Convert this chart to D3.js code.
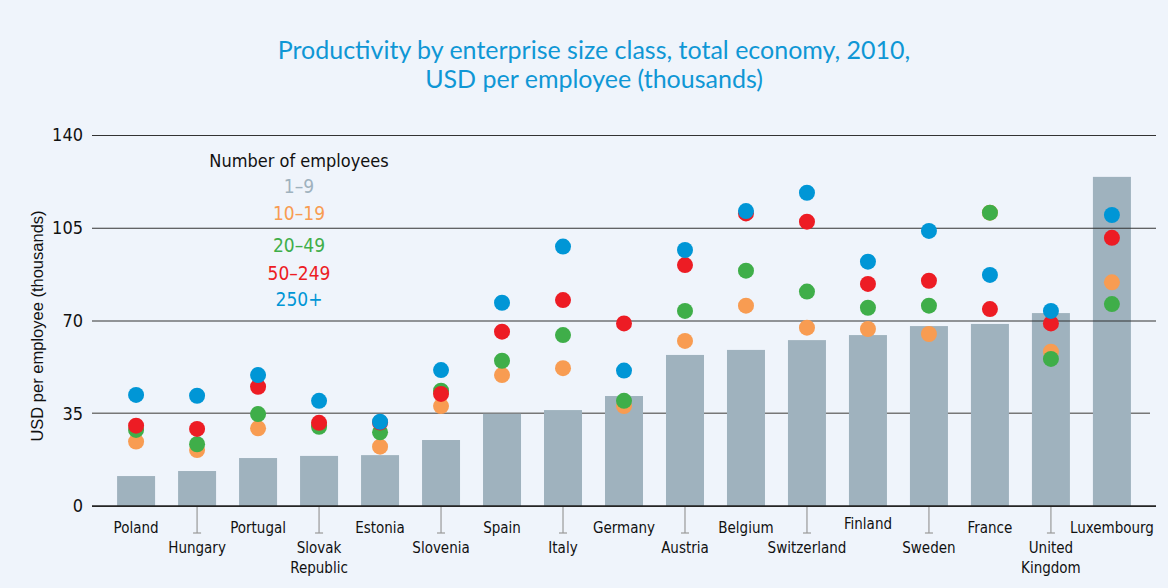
<!DOCTYPE html>
<html>
<head>
<meta charset="utf-8">
<script src="https://cdn.jsdelivr.net/npm/d3@7"></script>
<style>
  body { margin: 0; background: #eff4fb; }
  svg { display: block; }
  .cond { font-family: "DejaVu Sans Condensed", "Liberation Sans Narrow", sans-serif; font-stretch: condensed; }
</style>
</head>
<body>
<svg id="chart" width="1168" height="588"></svg>
<script>
// data
var countries = ["Poland", "Hungary", "Portugal", "Slovak Republic", "Estonia", "Slovenia", "Spain", "Italy",
  "Germany", "Austria", "Belgium", "Switzerland", "Finland", "Sweden", "France", "United Kingdom", "Luxembourg"];
var size1to9 = [11.3, 13.2, 18.1, 18.9, 19.2, 24.9, 34.8, 36.2, 41.5, 57.0, 58.9, 62.6, 64.5, 67.9, 68.7, 72.8, 124.2];
var size10to19 = [24.3, 21.1, 29.3, 30.5, 22.4, 37.7, 49.4, 52.0, 37.7, 62.3, 75.6, 67.3, 66.8, 64.9, 110.7, 58.2, 84.4];
var size20to49 = [28.7, 23.3, 34.7, 29.9, 27.8, 43.5, 54.8, 64.5, 39.7, 73.6, 88.8, 80.9, 74.8, 75.6, 110.7, 55.5, 76.2];
var size50to249 = [30.3, 29.1, 45.0, 31.4, 31.5, 42.3, 65.8, 77.7, 68.9, 90.9, 110.4, 107.3, 83.8, 85.0, 74.3, 68.9, 101.2];
var size250plus = [41.9, 41.6, 49.4, 39.7, 31.8, 51.3, 76.7, 97.9, 51.1, 96.6, 111.3, 118.2, 92.2, 103.8, 87.2, 73.6, 109.8];
var yTicks = [0, 35, 70, 105, 140];

var legendLabels = ["1\u20139", "10\u201319", "20\u201349", "50\u2013249", "250+"];
var colors = ["#9fb2be", "#f89c52", "#3fae49", "#ed1c24", "#0096d6"];

var svg = d3.select("#chart");
svg.append("rect").attr("width", 1168).attr("height", 588).attr("fill", "#eff4fb");

var x = d3.scaleBand().domain(countries).range([105.5, 1142.5]).paddingInner(0.377).paddingOuter(0.19);
var y = d3.scaleLinear().domain([0, 140]).range([506, 135]);

// title
var titleLines = ["Productivity by enterprise size class, total economy, 2010,", "USD per employee (thousands)"];
titleLines.forEach(function (t, i) {
  svg.append("text").attr("x", 594).attr("y", 59 + i * 29).attr("text-anchor", "middle")
    .attr("fill", "#0f97d5").style("font-family", "Lato, 'Open Sans', sans-serif").style("font-size", "25px")
    .text(t);
});

// 35 gridline sits behind the bars
svg.append("line").attr("x1", 92).attr("x2", 1150).attr("y1", y(35)).attr("y2", y(35))
  .attr("stroke", "#777").attr("stroke-width", 1.5);

// bars (1-9 employees)
svg.append("g").selectAll("rect").data(countries).enter().append("rect")
  .attr("x", d => x(d))
  .attr("width", x.bandwidth())
  .attr("y", (d, i) => y(size1to9[i]))
  .attr("height", (d, i) => y(0) - y(size1to9[i]))
  .attr("fill", colors[0]);

// other gridlines on top
var yAxis = svg.append("g").attr("transform", "translate(92,0)")
  .call(d3.axisLeft(y).tickValues(yTicks).tickSize(0).tickPadding(9));
yAxis.select(".domain").remove();
yAxis.selectAll("text").attr("class", "cond").style("font-size", "18px").attr("fill", "#111");
yAxis.selectAll(".tick").filter(d => d != 35).append("line")
  .attr("x1", 0).attr("x2", 1064).attr("stroke", "#333").attr("stroke-width", 1.2);

// y label
svg.append("text").attr("transform", "translate(43,326) rotate(-90)").attr("text-anchor", "middle")
  .style("font-family", "'Liberation Sans', Arial, sans-serif").style("font-size", "16.5px").attr("fill", "#111")
  .text("USD per employee (thousands)");

// x axis labels, alternating rows
var xg = svg.append("g");
countries.forEach(function (c, i) {
  var cx = x(c) + x.bandwidth() / 2;
  var words = c.split(" ");
  if (i % 2 == 1) {
    xg.append("line").attr("x1", cx).attr("x2", cx).attr("y1", 507).attr("y2", 533)
      .attr("stroke", "#999").attr("stroke-width", 1.2);
    xg.append("line").attr("x1", cx - 4).attr("x2", cx + 4).attr("y1", 533).attr("y2", 533)
      .attr("stroke", "#999").attr("stroke-width", 1.2);
  }
  var base = i % 2 == 0 ? 533 : 553;
  if (c == "Finland") base = 529;
  var t = xg.append("text").attr("class", "cond").attr("text-anchor", "middle")
    .style("font-size", "15px").attr("fill", "#111");
  words.forEach(function (w, k) {
    t.append("tspan").attr("x", cx).attr("y", base + k * 20).text(w);
  });
});

// axis line
svg.append("line").attr("x1", 92).attr("x2", 1156).attr("y1", y(0)).attr("y2", y(0))
  .attr("stroke", "#222").attr("stroke-width", 1.5);

// dots, smallest class drawn first
var dotSeries = [size10to19, size20to49, size50to249, size250plus];
dotSeries.forEach(function (vals, s) {
  svg.append("g").selectAll("circle").data(countries).enter().append("circle")
    .attr("cx", d => x(d) + x.bandwidth() / 2)
    .attr("cy", (d, i) => y(vals[i]))
    .attr("r", 8)
    .attr("fill", colors[s + 1]);
});

// legend
svg.append("text").attr("class", "cond").attr("x", 299).attr("y", 167).attr("text-anchor", "middle")
  .style("font-size", "18px").attr("fill", "#111").text("Number of employees");
var legendY = [193, 220, 252, 280, 306];
legendLabels.forEach(function (l, i) {
  svg.append("text").attr("class", "cond").attr("x", 299).attr("y", legendY[i]).attr("text-anchor", "middle")
    .style("font-size", "19px").attr("fill", colors[i]).text(l);
});
</script>
</body>
</html>
